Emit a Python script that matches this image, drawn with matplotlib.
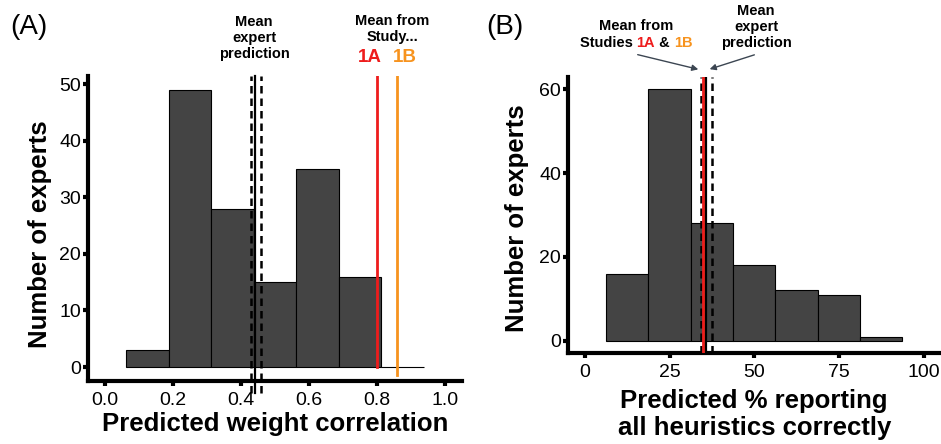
import numpy as np
import matplotlib.pyplot as plt
from matplotlib.patches import FancyArrowPatch

plt.rcParams['font.family'] = ['Liberation Sans', 'DejaVu Sans']

# Panel A: predicted weight correlation
a_edges = [0.0625, 0.1875, 0.3125, 0.4375, 0.5625, 0.6875, 0.8125, 0.9375]
a_counts = [3, 49, 28, 15, 35, 16, 0]
a_expert_mean = 0.441
a_expert_ci = [0.429, 0.459]
a_study_1a = 0.80
a_study_1b = 0.86
a_xticks = [0.0, 0.2, 0.4, 0.6, 0.8, 1.0]
a_yticks = [0, 10, 20, 30, 40, 50]

# Panel B: predicted % reporting all heuristics correctly
b_edges = [6.25, 18.75, 31.25, 43.75, 56.25, 68.75, 81.25, 93.75]
b_counts = [16, 60, 28, 18, 12, 11, 1]
b_expert_mean = 35.9
b_expert_ci = [34.3, 37.5]
b_study_1a = 34.8
b_study_1b = 35.3
b_xticks = [0, 25, 50, 75, 100]
b_yticks = [0, 20, 40, 60]

RED = '#ee1c1c'
ORANGE = '#f7931e'
BAR = '#444444'
LABEL_SIZE = 18.5
ANNOT_SIZE = 10.5


def style_axes(ax, xpad):
    for s in ['top', 'right']:
        ax.spines[s].set_visible(False)
    for s in ['left', 'bottom']:
        ax.spines[s].set_linewidth(3)
    ax.tick_params(axis='both', width=3, length=3.5, labelsize=14)
    ax.tick_params(axis='y', pad=1.5)
    ax.tick_params(axis='x', pad=xpad)


def draw_hist(ax, edges, counts):
    edges = np.asarray(edges)
    ax.bar(edges[:-1], counts, width=np.diff(edges), align='edge',
           color=BAR, edgecolor='black', linewidth=0.8, zorder=2)


fig = plt.figure(figsize=(9.41, 4.44), dpi=100)

# ---- Panel A ----
axA = fig.add_axes([0.0935, 0.142, 0.3975, 0.687])
draw_hist(axA, a_edges, a_counts)
axA.set_xlim(-0.05, 1.05)
axA.set_ylim(-2.45, 51.45)
axA.set_xticks(a_xticks)
axA.set_xticklabels([f'{v:.1f}' for v in a_xticks])
axA.set_yticks(a_yticks)
style_axes(axA, xpad=4.5)
axA.axvline(a_study_1a, ymin=0.045, ymax=1, color=RED, lw=2, zorder=3)
axA.axvline(a_study_1b, ymin=0.02, ymax=1, color=ORANGE, lw=2, zorder=3)
for x in a_expert_ci:
    axA.axvline(x, ymin=-0.04, ymax=1, color='black', lw=1.8,
                ls=(0, (3, 2)), clip_on=False, zorder=4)
axA.axvline(a_expert_mean, ymin=-0.04, ymax=1, color='black', lw=1.6,
            clip_on=False, zorder=4)
axA.set_xlabel('Predicted weight correlation', fontsize=LABEL_SIZE,
               fontweight='bold')
axA.xaxis.set_label_coords(0.5, -0.102)
axA.set_ylabel('Number of experts', fontsize=LABEL_SIZE, fontweight='bold')
axA.yaxis.set_label_coords(-0.097, 0.48)

# ---- Panel B ----
axB = fig.add_axes([0.6036, 0.2043, 0.3958, 0.623])
draw_hist(axB, b_edges, b_counts)
axB.set_xlim(-5, 105)
axB.set_ylim(-3, 63)
axB.set_xticks(b_xticks)
axB.set_yticks(b_yticks)
style_axes(axB, xpad=4)
axB.axvline(b_study_1b, color=ORANGE, lw=2, zorder=3)
for x in b_expert_ci:
    axB.axvline(x, color='black', lw=1.8, ls=(0, (3, 2)), zorder=4)
axB.axvline(b_study_1a, color=RED, lw=2, zorder=4)
axB.axvline(b_expert_mean, color='black', lw=1.6, zorder=4)
axB.set_xlabel('Predicted % reporting\nall heuristics correctly',
               fontsize=LABEL_SIZE, fontweight='bold', linespacing=1.15)
axB.xaxis.set_label_coords(0.5, -0.128)
axB.set_ylabel('Number of experts', fontsize=LABEL_SIZE, fontweight='bold')
axB.yaxis.set_label_coords(-0.106, 0.49)


# ---- Annotations (figure pixel coordinates) ----
def ftxt(x, y, s, **kw):
    return fig.text(x / 941, 1 - y / 444, s, **kw)


ftxt(10, 27, '(A)', fontsize=20, va='center', ha='left')
ftxt(486, 27, '(B)', fontsize=20, va='center', ha='left')

ftxt(254, 38, 'Mean\nexpert\nprediction', fontsize=ANNOT_SIZE,
     fontweight='bold', ha='center', va='center', linespacing=1.2)
ftxt(392, 29, 'Mean from\nStudy...', fontsize=ANNOT_SIZE, fontweight='bold',
     ha='center', va='center', linespacing=1.2)
ftxt(370, 57, '1A', fontsize=13.5, fontweight='bold', color=RED,
     ha='center', va='center')
ftxt(405, 57, '1B', fontsize=13.5, fontweight='bold', color=ORANGE,
     ha='center', va='center')

ftxt(756, 27, 'Mean\nexpert\nprediction', fontsize=ANNOT_SIZE,
     fontweight='bold', ha='center', va='center', linespacing=1.2)
ftxt(636, 26, 'Mean from', fontsize=ANNOT_SIZE, fontweight='bold',
     ha='center', va='center')

# "Studies 1A & 1B" with coloured parts
parts = [('Studies ', 'black'), ('1A', RED), (' & ', 'black'), ('1B', ORANGE)]
fig.canvas.draw()
renderer = fig.canvas.get_renderer()
widths = []
for s, c in parts:
    t = fig.text(0, 0, s, fontsize=ANNOT_SIZE, fontweight='bold')
    widths.append(t.get_window_extent(renderer).width)
    t.remove()
x0 = 636 - sum(widths) / 2
for (s, c), w in zip(parts, widths):
    ftxt(x0, 43, s, fontsize=ANNOT_SIZE, fontweight='bold', color=c,
         ha='left', va='center')
    x0 += w

arrow_kw = dict(arrowstyle='-|>', color='#3c4652', lw=1.0, mutation_scale=9,
                transform=fig.transFigure)
fig.patches.append(FancyArrowPatch((635 / 941, 1 - 54 / 444),
                                   (701 / 941, 1 - 70 / 444), **arrow_kw))
fig.patches.append(FancyArrowPatch((757 / 941, 1 - 54 / 444),
                                   (707 / 941, 1 - 70 / 444), **arrow_kw))

fig.savefig('out.png', dpi=100)
